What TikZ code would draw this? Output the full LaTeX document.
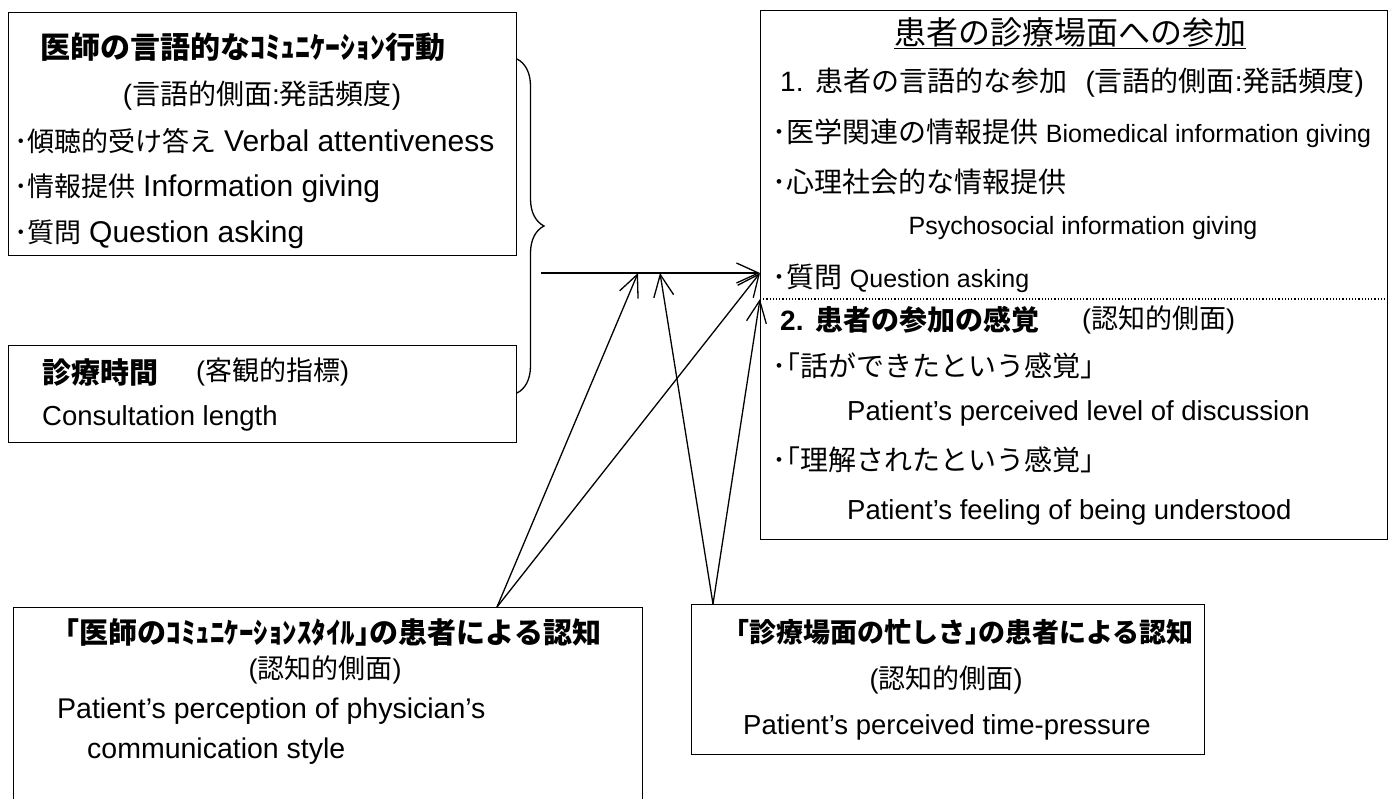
\documentclass[tikz,border=0pt]{standalone}
\usepackage{fontspec}
\setmainfont{Liberation Sans}
\newfontfamily\jp{Noto Sans CJK JP}
\usetikzlibrary{arrows.meta,decorations.pathreplacing}
\newcommand{\fsz}[1]{\fontsize{#1}{#1}\selectfont}
\begin{document}
\begin{tikzpicture}[x=1pt,y=-1pt,
  box/.style={draw, line width=1.3pt, inner sep=0pt, anchor=north west},
  tl/.style={inner sep=0pt, anchor=west, font=\fsz{27}},
  tc/.style={inner sep=0pt, anchor=center, font=\fsz{27}},
  tr/.style={inner sep=0pt, anchor=west, font=\fsz{28}},
  hb/.style={font=\fsz{29}\bfseries},
  en/.style={font=\fsz{27.5}},
  ens/.style={font=\fsz{25}},
  conn/.style={line width=1.3pt, -{Straight Barb[length=22pt,width=20pt,line width=1.3pt]}},
  sep/.style={line width=1.2pt, dotted},
  bracestyle/.style={line width=1.3pt, decorate, decoration={brace, amplitude=27pt}},
]
\useasboundingbox (0,0) rectangle (1393,799);

% boxes
\node[box, minimum width=508pt, minimum height=243pt] (b1) at (8,12) {};
\node[box, minimum width=508pt, minimum height=97pt] (b2) at (8,345) {};
\node[box, minimum width=627pt, minimum height=529pt] (rbox) at (760,10) {};
\node[box, minimum width=629pt, minimum height=210pt] (bl) at (13,607) {};
\node[box, minimum width=513pt, minimum height=150pt] (bm) at (691,604) {};

% box 1
\node[tl, font=\fsz{30}\bfseries] (b1t) at (40,47) {\jp 医師の言語的なｺﾐｭﾆｹｰｼｮﾝ行動};
\node[tc, font=\fsz{28}] (b1s) at (262,96) {({\jp 言語的側面}:{\jp 発話頻度})};
\node[tl] (b1a) at (14,141) {{\jp ･傾聴的受け答え} {\fsz{30}Verbal attentiveness}};
\node[tl] (b1b) at (14,188) {{\jp ･情報提供} {\fsz{30}Information giving}};
\node[tl] (b1c) at (14,234) {{\jp ･質問} {\fsz{30}Question asking}};

% box 2
\node[tl, hb] (b2t) at (42,372) {\jp 診療時間};
\node[tl] (b2s) at (196,372) {({\jp 客観的指標})};
\node[tl, en] (b2e) at (42,418) {Consultation length};

% right box
\node[tc, font=\fsz{32}] (rt) at (1070,33) {\jp\underline{患者の診療場面への参加}};
\node[tr] (r1) at (780,83) {1.\hspace{12pt}{\jp 患者の言語的な参加}\hspace{18pt}({\jp 言語的側面}:{\jp 発話頻度})};
\node[tr] (r1a) at (772,133) {{\jp ･医学関連の情報提供} {\fsz{25}Biomedical information giving}};
\node[tr] (r1b) at (772,182) {\jp ･心理社会的な情報提供};
\node[tc, ens] (r1c) at (1083,228) {Psychosocial information giving};
\node[tr] (r1d) at (772,278) {{\jp ･質問} {\fsz{25}Question asking}};
\coordinate (dl) at (760,299);
\coordinate (dr) at (1387,299);
\draw[sep] (dl) -- (dr);
\node[tr, font=\fsz{28}\bfseries] (r2) at (780,320) {2.\hspace{12pt}{\jp 患者の参加の感覚}};
\node[tl] (r2s) at (1082,320) {({\jp 認知的側面})};
\node[tr] (r2a) at (772,366) {\jp ･｢話ができたという感覚｣};
\node[tl, en] (r2b) at (847,413) {Patient’s perceived level of discussion};
\node[tr] (r2c) at (772,460) {\jp ･｢理解されたという感覚｣};
\node[tl, en] (r2d) at (847,512) {Patient’s feeling of being understood};

% bottom left
\node[tc, hb] (blt) at (326,632) {\jp 「医師のｺﾐｭﾆｹｰｼｮﾝｽﾀｲﾙ｣の患者による認知};
\node[tc] (bls) at (325,670) {({\jp 認知的側面})};
\node[tl, font=\fsz{28.5}] (ble1) at (57,711) {Patient’s perception of physician’s};
\node[tl, font=\fsz{28.5}] (ble2) at (87,751) {communication style};

% bottom middle
\node[tc, font=\fsz{27}\bfseries] (bmt) at (958,632) {\jp 「診療場面の忙しさ｣の患者による認知};
\node[tc] (bms) at (946,680) {({\jp 認知的側面})};
\node[tc, en] (bme) at (947,727) {Patient’s perceived time-pressure};

% brace
\coordinate (brt) at (517,59);
\coordinate (brb) at (517,393);
\draw[bracestyle] (brt) -- (brb);

% connectors
\coordinate (hs) at (541,273);
\coordinate (h1) at (638,273);
\coordinate (h2) at (660,273);
\coordinate (rin) at (rbox.west |- hs);
\coordinate (rdot) at (rbox.west |- dl);
\coordinate (o1) at (497,607);
\coordinate (o2) at (713,604);
\draw[conn] (hs) -- (rin);
\draw[conn] (o1) -- (h1);
\draw[conn] (o1) -- (rin);
\draw[conn] (o2) -- (h2);
\draw[conn] (o2) -- (rdot);
\end{tikzpicture}
\end{document}
